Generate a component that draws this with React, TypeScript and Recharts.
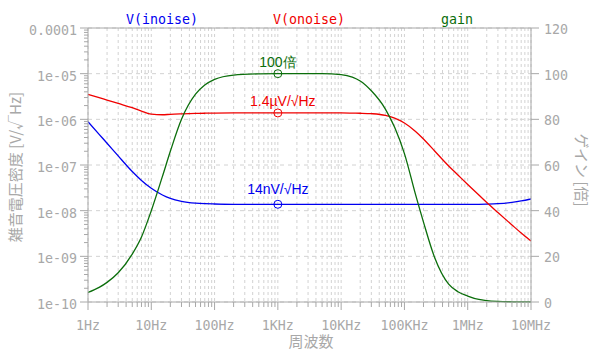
import { CartesianGrid, ComposedChart, Line, ReferenceDot, ReferenceLine, XAxis, YAxis } from "recharts";

const freqs = [
  1, 1.5, 2, 3, 5, 7, 10, 15, 20, 30, 50, 70, 100, 200, 500, 1e3, 2e3, 5e3, 1e4, 1.5e4, 2e4, 3e4, 5e4, 7e4, 1e5, 1.5e5,
  2e5, 3e5, 5e5, 7e5, 1e6, 1.5e6, 2e6, 3e6, 5e6, 7e6, 1e7,
];

// V(inoise) [V/√Hz]
const inoise = [
  8.9e-7, 4.7e-7, 3.0e-7, 1.58e-7, 7.2e-8, 4.6e-8, 3.1e-8, 2.2e-8, 1.85e-8, 1.6e-8, 1.46e-8, 1.42e-8, 1.4e-8, 1.38e-8,
  1.38e-8, 1.38e-8, 1.38e-8, 1.38e-8, 1.38e-8, 1.38e-8, 1.38e-8, 1.38e-8, 1.38e-8, 1.38e-8, 1.38e-8, 1.38e-8, 1.38e-8,
  1.38e-8, 1.38e-8, 1.38e-8, 1.38e-8, 1.38e-8, 1.39e-8, 1.42e-8, 1.52e-8, 1.63e-8, 1.8e-8,
];

// V(onoise) [V/√Hz]
const onoise = [
  3.53e-6, 2.99e-6, 2.64e-6, 2.23e-6, 1.8e-6, 1.52e-6, 1.3e-6, 1.26e-6, 1.29e-6, 1.32e-6, 1.35e-6, 1.36e-6, 1.37e-6,
  1.38e-6, 1.38e-6, 1.38e-6, 1.38e-6, 1.38e-6, 1.38e-6, 1.37e-6, 1.36e-6, 1.33e-6, 1.22e-6, 1.06e-6, 8.3e-7, 5.42e-7,
  3.71e-7, 2.03e-7, 9.5e-8, 6.04e-8, 3.74e-8, 2.2e-8, 1.51e-8, 9.1e-9, 4.86e-9, 3.24e-9, 2.17e-9,
];

// gain [倍]
const gain = [
  4.2, 6.4, 8.6, 12.8, 21, 28.5, 40, 55, 66, 80, 91, 95, 97.5, 99.4, 99.9, 100, 100, 100, 99.6, 98.5, 96.8, 92.5, 84.5,
  76.5, 65, 47, 35, 19.5, 7.8, 4.5, 2.6, 1.1, 0.6, 0.25, 0.09, 0.05, 0.02,
];

const xDecades = [1, 10, 100, 1e3, 1e4, 1e5, 1e6, 1e7];
const xLabels = ["1Hz", "10Hz", "100Hz", "1KHz", "10KHz", "100KHz", "1MHz", "10MHz"];
const yDecades = [1e-10, 1e-9, 1e-8, 1e-7, 1e-6, 1e-5, 1e-4];
const yLabels = ["1e-10", "1e-09", "1e-08", "1e-07", "1e-06", "1e-05", "0.0001"];
const gainTicks = [0, 20, 40, 60, 80, 100, 120];

const minorSteps = [1, 2, 3, 4, 5, 6, 7, 8, 9];
const xTicks = [...xDecades.slice(0, -1).flatMap((d) => minorSteps.map((m) => m * d)), 1e7];
const yTicks = [...yDecades.slice(0, -1).flatMap((d) => minorSteps.map((m) => m * d)), 1e-4];

const inoiseData = freqs.map((f, i) => ({ f, v: inoise[i] }));
const onoiseData = freqs.map((f, i) => ({ f, v: onoise[i] }));
const gainData = freqs.map((f, i) => ({ f, v: gain[i] }));

const GRAY = "#a8a8a8";
const GRID = "#d2d2d2";
const BLUE = "#0000f0";
const RED = "#f00000";
const GREEN = "#0b6e0b";
const MONO = "'DejaVu Sans Mono', monospace";
const SANS = "'Liberation Sans', Arial, sans-serif";
const CJK = "'Noto Sans CJK JP', 'Noto Sans', sans-serif";

function XTick({ x, y, payload }: any) {
  const i = xDecades.indexOf(payload.value);
  const major = i >= 0;
  return (
    <g>
      <line x1={x} x2={x} y1={y} y2={y + (major ? 8 : 5)} stroke={GRAY} />
      {major && (
        <text x={x} y={y + 28} textAnchor="middle" fontFamily={MONO} fontSize={13.3} fill={GRAY}>
          {xLabels[i]}
        </text>
      )}
    </g>
  );
}

function LeftTick({ x, y, payload }: any) {
  const i = yDecades.indexOf(payload.value);
  const major = i >= 0;
  return (
    <g>
      <line x1={x - (major ? 8 : 4)} x2={x} y1={y} y2={y} stroke={GRAY} />
      {major && (
        <text x={x - 11} y={y + 7} textAnchor="end" fontFamily={MONO} fontSize={13.3} fill={GRAY}>
          {yLabels[i]}
        </text>
      )}
    </g>
  );
}

function RightTick({ x, y, payload }: any) {
  return (
    <g>
      <line x1={x} x2={x + 8} y1={y} y2={y} stroke={GRAY} />
      <text x={x + 13} y={y + 6} textAnchor="start" fontFamily={MONO} fontSize={13.3} fill={GRAY}>
        {payload.value}
      </text>
    </g>
  );
}

function dotLabel(text: string, color: string, dx: number, dy: number) {
  return ({ viewBox }: any) => {
    const cx = viewBox.x + viewBox.width / 2;
    return (
      <text x={cx + dx} y={viewBox.y + dy} textAnchor="middle" fontFamily={SANS} fontSize={14} fill={color}>
        {text}
      </text>
    );
  };
}

export default function App() {
  return (
    <div style={{ position: "relative", width: 600, height: 356, background: "#fff" }}>
      <style>{"body{margin:0}"}</style>
      <ComposedChart width={600} height={356} margin={{ top: 28, right: 0, bottom: 0, left: 0 }}>
        <CartesianGrid
          horizontal={false}
          verticalValues={xTicks}
          stroke={GRID}
          strokeDasharray="3 3"
          yAxisId="left"
        />
        <CartesianGrid
          vertical={false}
          horizontalValues={yDecades}
          stroke={GRID}
          strokeDasharray="4 4"
          yAxisId="left"
        />
        <XAxis
          dataKey="f"
          type="number"
          scale="log"
          domain={[1, 1e7]}
          ticks={xTicks}
          interval={0}
          allowDataOverflow
          height={54}
          tickSize={0}
          tickMargin={0}
          tickLine={false}
          axisLine={{ stroke: GRAY }}
          tick={<XTick />}
        />
        <YAxis
          yAxisId="left"
          type="number"
          scale="log"
          domain={[1e-10, 1e-4]}
          ticks={yTicks}
          interval={0}
          allowDataOverflow
          width={88}
          tickSize={0}
          tickMargin={0}
          tickLine={false}
          axisLine={{ stroke: GRAY }}
          tick={<LeftTick />}
        />
        <YAxis
          yAxisId="right"
          orientation="right"
          type="number"
          domain={[0, 120]}
          ticks={gainTicks}
          interval={0}
          width={69}
          tickSize={0}
          tickMargin={0}
          tickLine={false}
          axisLine={{ stroke: GRAY }}
          tick={<RightTick />}
        />
        <ReferenceLine yAxisId="left" y={1e-4} stroke={GRAY} strokeWidth={1} />
        <Line
          yAxisId="left"
          data={inoiseData}
          dataKey="v"
          type="monotone"
          stroke={BLUE}
          strokeWidth={1.3}
          dot={false}
          isAnimationActive={false}
        />
        <Line
          yAxisId="left"
          data={onoiseData}
          dataKey="v"
          type="monotone"
          stroke={RED}
          strokeWidth={1.3}
          dot={false}
          isAnimationActive={false}
        />
        <Line
          yAxisId="right"
          data={gainData}
          dataKey="v"
          type="monotone"
          stroke={GREEN}
          strokeWidth={1.3}
          dot={false}
          isAnimationActive={false}
        />
        <ReferenceDot
          yAxisId="right"
          x={1e3}
          y={100}
          r={4}
          fill="none"
          stroke={GREEN}
          label={dotLabel("100倍", GREEN, 0, -3)}
        />
        <ReferenceDot
          yAxisId="left"
          x={1e3}
          y={1.38e-6}
          r={4}
          fill="none"
          stroke={RED}
          label={dotLabel("1.4µV/√Hz", RED, 5, -3)}
        />
        <ReferenceDot
          yAxisId="left"
          x={1e3}
          y={1.38e-8}
          r={4}
          fill="none"
          stroke={BLUE}
          label={dotLabel("14nV/√Hz", BLUE, 0, -6)}
        />
      </ComposedChart>
      <div style={{ position: "absolute", top: 12, left: 0, width: 600, fontFamily: MONO, fontSize: 13.3 }}>
        <span style={{ position: "absolute", left: 162, transform: "translateX(-50%)", color: BLUE }}>V(inoise)</span>
        <span style={{ position: "absolute", left: 309, transform: "translateX(-50%)", color: RED }}>V(onoise)</span>
        <span style={{ position: "absolute", left: 457, transform: "translateX(-50%)", color: GREEN }}>gain</span>
      </div>
      <div
        style={{
          position: "absolute",
          left: 14,
          top: 167,
          transform: "translate(-50%, -50%) rotate(-90deg)",
          whiteSpace: "nowrap",
          fontFamily: CJK,
          fontSize: 15,
          color: GRAY,
        }}
      >
        雑音電圧密度 [V/√Hz]
      </div>
      <div
        style={{
          position: "absolute",
          left: 582,
          top: 170,
          transform: "translate(-50%, -50%) rotate(90deg)",
          whiteSpace: "nowrap",
          fontFamily: CJK,
          fontSize: 15,
          color: GRAY,
        }}
      >
        ゲイン [倍]
      </div>
      <div
        style={{
          position: "absolute",
          left: 311,
          top: 340,
          transform: "translate(-50%, -50%)",
          whiteSpace: "nowrap",
          fontFamily: CJK,
          fontSize: 15,
          color: GRAY,
        }}
      >
        周波数
      </div>
    </div>
  );
}
